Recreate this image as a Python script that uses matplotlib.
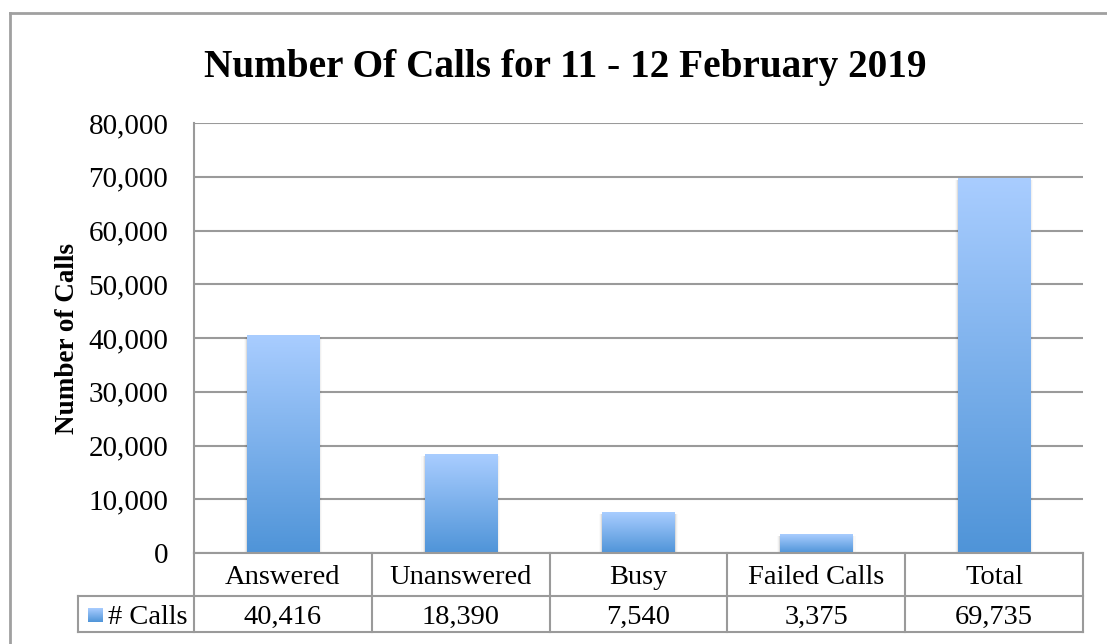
import numpy as np
import matplotlib
matplotlib.use("Agg")
import matplotlib.pyplot as plt
from matplotlib.lines import Line2D
from matplotlib.patches import Rectangle

categories = ["Answered", "Unanswered", "Busy", "Failed Calls", "Total"]
values = [40416, 18390, 7540, 3375, 69735]
series_name = "# Calls"
title = "Number Of Calls for 11 - 12 February 2019"
ylabel = "Number of Calls"
yticks = [0, 10000, 20000, 30000, 40000, 50000, 60000, 70000, 80000]

W, H = 1107, 644
fig = plt.figure(figsize=(W / 100, H / 100), dpi=100)
plt.rcParams['font.family'] = ['Liberation Serif', 'DejaVu Serif']

def fx(px):
    return px / W

def fy(py):
    return 1 - py / H

L, R, T, B = 194, 1083, 123, 553
ax = fig.add_axes([fx(L), fy(B), fx(R - L), (B - T) / H])
ax.set_xlim(-0.5, len(categories) - 0.5)
ax.set_ylim(0, 80000)
ax.set_yticks(yticks)
ax.set_yticklabels([f"{v:,}" for v in yticks], fontsize=21)
ax.tick_params(axis='y', length=0, pad=18.5)
ax.set_xticks([])
for s in ["top", "right", "bottom"]:
    ax.spines[s].set_visible(False)
ax.spines["left"].set_color("#9a9a9a")
ax.spines["left"].set_linewidth(1.5)
ax.yaxis.grid(True, color="#9a9a9a", linewidth=1.5)
ax.set_axisbelow(True)

grad_top = np.array([0xA9, 0xCD, 0xFF]) / 255
grad_bot = np.array([0x4F, 0x94, 0xD8]) / 255
grad = np.linspace(0, 1, 256)[:, None]
img = grad_top[None, None, :] * (1 - grad[..., None]) + grad_bot[None, None, :] * grad[..., None]
img = np.repeat(img, 2, axis=1)

bw = 0.405
bars = ax.bar(range(len(categories)), values, width=bw, color="none", edgecolor="none", zorder=3)
for b in bars:
    x0, y0 = b.get_x(), b.get_y()
    w, h = b.get_width(), b.get_height()
    # soft shadow on the sides
    for i, a in enumerate([0.08, 0.04, 0.02]):
        off = 0.006 * (i + 1)
        sh = Rectangle((x0 - off, y0), w + 2 * off, h - 300, facecolor="black",
                       alpha=a, edgecolor="none", zorder=2.5)
        ax.add_patch(sh)
    ax.imshow(img, extent=(x0, x0 + w, y0, y0 + h), aspect="auto", zorder=3,
              interpolation="bilinear")
ax.set_xlim(-0.5, len(categories) - 0.5)
ax.set_ylim(0, 80000)

ax.set_ylabel(ylabel, fontsize=19.5, fontweight="bold")
ax.yaxis.set_label_coords((80 - L) / (R - L), 0.5)

# title
fig.text(fx(565), fy(68), title, ha="center", va="center", fontsize=28.3, fontweight="bold")

# data table
gc = "#9a9a9a"
lw = 1.5
row1 = 596
row2 = 632
def hline(y, x0, x1):
    fig.add_artist(Line2D([fx(x0), fx(x1)], [fy(y), fy(y)], color=gc, lw=lw))
def vline(x, y0, y1):
    fig.add_artist(Line2D([fx(x), fx(x)], [fy(y0), fy(y1)], color=gc, lw=lw))

hline(B, L, R)
hline(row1, 78, R)
hline(row2, 78, R)
vline(78, row1, row2)
colw = (R - L) / len(categories)
for k in range(len(categories) + 1):
    vline(L + k * colw, B, row2)
for k, (c, v) in enumerate(zip(categories, values)):
    cx = L + (k + 0.5) * colw
    fig.text(fx(cx), fy((B + row1) / 2 + 3), c, ha="center", va="center", fontsize=20.5)
    fig.text(fx(cx), fy((row1 + row2) / 2 + 3), f"{v:,}", ha="center", va="center", fontsize=20.5)

# legend key
kax = fig.add_axes([fx(88), fy(622), fx(15), 14 / H])
kax.imshow(img, aspect="auto", extent=(0, 1, 0, 1))
kax.axis("off")
fig.text(fx(108), fy((row1 + row2) / 2 + 3), series_name, ha="left", va="center", fontsize=20.5)

# outer chart border
fig.add_artist(Line2D([fx(10), fx(10)], [fy(13), 0], color="#a0a0a0", lw=2))
fig.add_artist(Line2D([fx(10), 1], [fy(13), fy(13)], color="#a0a0a0", lw=2))

fig.savefig("out.png", dpi=100)
